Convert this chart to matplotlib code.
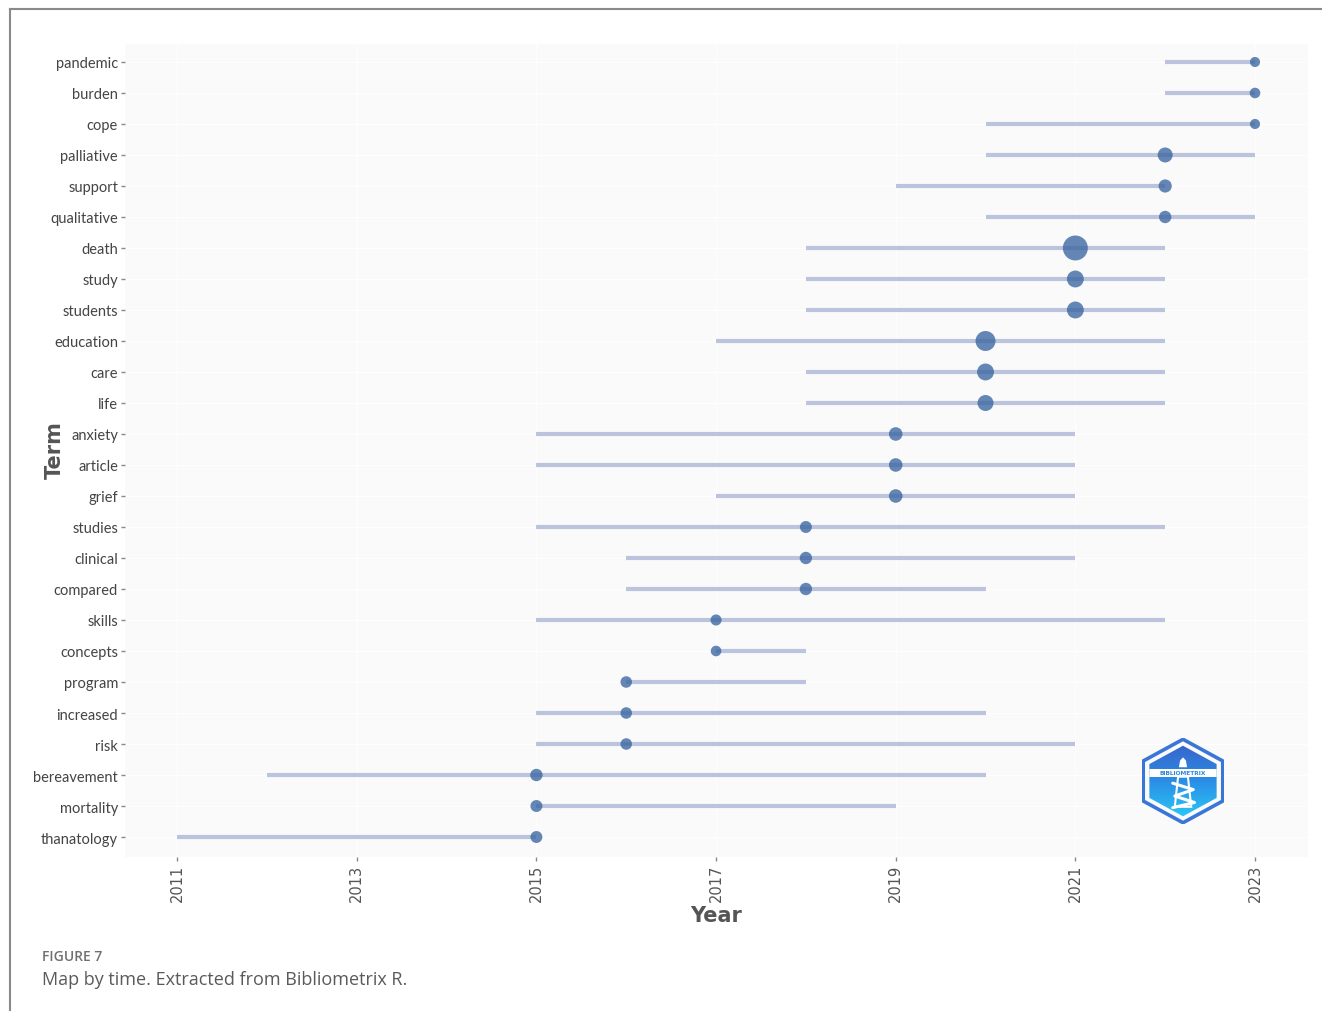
import numpy as np
import matplotlib
matplotlib.use("Agg")
import matplotlib.pyplot as plt
from matplotlib.patches import Polygon, Rectangle
from matplotlib.lines import Line2D
from matplotlib.colors import LinearSegmentedColormap

# ---------------- data ----------------
terms = ["pandemic", "burden", "cope", "palliative", "support", "qualitative",
         "death", "study", "students", "education", "care", "life",
         "anxiety", "article", "grief", "studies", "clinical", "compared",
         "skills", "concepts", "program", "increased", "risk",
         "bereavement", "mortality", "thanatology"]
year_q1 = [2022, 2022, 2020, 2020, 2019, 2020,
           2018, 2018, 2018, 2017, 2018, 2018,
           2015, 2015, 2017, 2015, 2016, 2016,
           2015, 2017, 2016, 2015, 2015,
           2012, 2015, 2011]
year_med = [2023, 2023, 2023, 2022, 2022, 2022,
            2021, 2021, 2021, 2020, 2020, 2020,
            2019, 2019, 2019, 2018, 2018, 2018,
            2017, 2017, 2016, 2016, 2016,
            2015, 2015, 2015]
year_q3 = [2023, 2023, 2023, 2023, 2022, 2023,
           2022, 2022, 2022, 2022, 2022, 2022,
           2021, 2021, 2021, 2022, 2021, 2020,
           2022, 2018, 2018, 2020, 2021,
           2020, 2019, 2015]
freq = [10, 11, 10, 22, 17, 15,
        61, 28, 28, 39, 28, 25,
        18, 18, 18, 14, 15, 15,
        12, 11, 13, 13, 13,
        15, 14, 14]
x_ticks = [2011, 2013, 2015, 2017, 2019, 2021, 2023]

# ---------------- figure ----------------
W, H = 1322, 1012
fig = plt.figure(figsize=(W / 100, H / 100), dpi=100)
fig.patch.set_facecolor("white")

def fx(px):
    return px / W

def fy(py):
    return 1 - py / H

ax = fig.add_axes([fx(125), fy(858), fx(1308) - fx(125), fy(45) - fy(858)])
ax.set_facecolor("#fafafa")
for s in ax.spines.values():
    s.set_visible(False)

n = len(terms)
ypos = np.arange(n)[::-1]

ax.hlines(ypos, year_q1, year_q3, color="#bcc3dc", lw=3.0, zorder=2)
ax.scatter(year_med, ypos, s=np.array(freq) * 5.3, color="#3a66a2",
           alpha=0.78, edgecolors="none", zorder=3)

ax.set_xlim(2010.42, 2023.59)
ax.set_ylim(-0.645, 25.58)
ax.set_xticks(x_ticks)
ax.set_xticklabels([str(v) for v in x_ticks], rotation=90,
                   fontsize=10.5, color="#555555", family="DejaVu Sans")
ax.set_yticks(ypos)
ax.set_yticklabels(terms, fontsize=10.5, color="#444444", family="Lato")
ax.tick_params(axis="both", length=3, width=1, color="#888888", pad=2)
ax.grid(True, color="white", lw=0.7)
ax.set_axisbelow(True)

fig.text(fx(716), fy(916), "Year", ha="center", va="center",
         fontsize=15, fontweight="bold", color="#555555", family="DejaVu Sans")
fig.text(fx(55), fy(450), "Term", ha="center", va="center", rotation=90,
         fontsize=15, fontweight="bold", color="#555555", family="DejaVu Sans")

# caption
fig.text(fx(42), fy(957), "FIGURE 7", ha="left", va="center",
         fontsize=10, fontweight="semibold", color="#707070", family="Open Sans")
fig.text(fx(42), fy(980), "Map by time. Extracted from Bibliometrix R.",
         ha="left", va="center", fontsize=13, color="#5a5a5a", family="Open Sans")

# frame lines
fig.add_artist(Line2D([fx(10), fx(10)], [0, fy(10)], transform=fig.transFigure,
                      color="#8a8a8a", lw=1.5))
fig.add_artist(Line2D([fx(10), 1], [fy(10), fy(10)], transform=fig.transFigure,
                      color="#8a8a8a", lw=1.5))

# ---------------- logo ----------------
lax = fig.add_axes([fx(1142), fy(825), fx(1224) - fx(1142), fy(739) - fy(825)])
lax.set_xlim(-1, 1)
lax.set_ylim(-1, 1)
lax.axis("off")

def hexv(r):
    return np.array([[0, r], [r, 0.48 * r], [r, -0.48 * r], [0, -r],
                     [-r, -0.48 * r], [-r, 0.48 * r]])

outer = Polygon(hexv(0.97), closed=True, fill=False, edgecolor="#3a76d8", lw=2.6)
lax.add_patch(outer)
inner = Polygon(hexv(0.82), closed=True, facecolor="none", edgecolor="none")
lax.add_patch(inner)
grad = np.linspace(0, 1, 100)[:, None]
cmap = LinearSegmentedColormap.from_list("lg", ["#3c5cc6", "#2a8ee6", "#2ad2f8"])
im = lax.imshow(grad, extent=[-1, 1, -1, 1], cmap=cmap, aspect="auto",
                origin="upper", zorder=1)
im.set_clip_path(inner)
band = Rectangle((-0.82, 0.1), 1.64, 0.18, facecolor="white", edgecolor="none", zorder=2)
lax.add_patch(band)
band.set_clip_path(inner)
lax.text(0, 0.19, "BIBLIOMETRIX", ha="center", va="center", fontsize=4.2,
         fontweight="bold", color="#2f86e4", zorder=3, family="DejaVu Sans")
lax.add_patch(Polygon([[-0.1, 0.32], [0.1, 0.32], [0.07, 0.48], [0, 0.55], [-0.07, 0.48]],
                      closed=True, facecolor="white", edgecolor="none", zorder=3))
lax.add_patch(Polygon([[-0.12, 0.1], [0.12, 0.1], [0.2, -0.6], [-0.2, -0.6]],
                      closed=True, facecolor="none", edgecolor="white", lw=1.5, zorder=3))
lax.plot([-0.25, 0.25, -0.2, 0.28, -0.25], [-0.05, -0.2, -0.35, -0.5, -0.62],
         color="white", lw=2.2, zorder=3, solid_capstyle="round")

fig.savefig("out.png", dpi=100, facecolor="white")
